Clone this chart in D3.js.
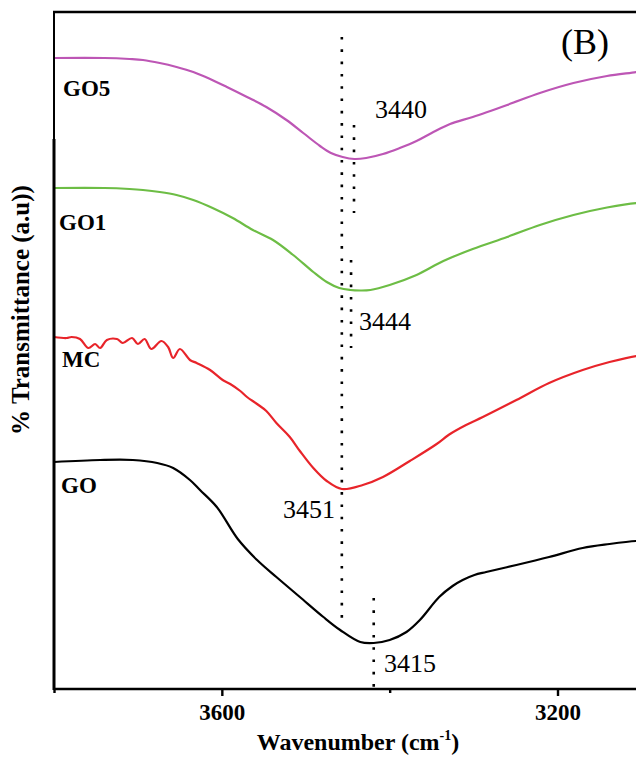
<!DOCTYPE html>
<html>
<head>
<meta charset="utf-8">
<script src="https://cdnjs.cloudflare.com/ajax/libs/d3/7.8.5/d3.min.js"></script>
<style>
  body { margin: 0; background: #fff; }
  text { font-family: "Liberation Serif", "Times New Roman", serif; }
</style>
</head>
<body>
<script>
// FTIR spectra, O-H stretching region (wavenumber, transmittance a.u.)
var go5 = [[3800,631],[3740,631],[3710,630],[3694,629],[3674,626],[3654,622],[3634,617],[3614,610],
  [3594,602],[3570,592],[3547,582],[3523,569],[3503,556],[3483,543],[3470,536],[3456,532],[3442,530],
  [3428,531],[3408,535],[3388,541],[3368,548],[3350,556],[3328,565],[3301,572],[3260,584],[3221,596],
  [3181,606],[3141,613],[3106,617],[3100,618]];

var go1 = [[3800,501],[3740,501],[3710,500],[3694,499],[3674,497],[3654,494],[3634,489],[3611,481],
  [3587,471],[3563,459],[3539,449],[3515,434],[3491,417],[3475,407],[3460,401],[3447,399],[3435,398.5],
  [3423,399],[3400,404],[3368,414],[3336,428],[3301,440],[3260,452],[3221,464],[3181,474],[3141,481.5],
  [3106,486],[3100,486]];

var mc = [[3800,352],[3785,351],[3779,352],[3769,350],[3759,341],[3751,345],[3745,341],[3737,349],
  [3725,350],[3718,346],[3707,351],[3700,345],[3692,350],[3684,340],[3672,348],[3664,342],[3658,331],
  [3650,340],[3638,329],[3630,326],[3614,319],[3599,309],[3590,305],[3578,298],[3570,292],[3558,285],
  [3547,278],[3535,266],[3519,252],[3507,238],[3491,221],[3475,208],[3457,200],[3432,204],[3408,212],
  [3376,228],[3344,245],[3329,254.5],[3309,264],[3289,272],[3249,289],[3210,306],[3170,319],[3138,327],
  [3106,333],[3100,333]];

var go = [[3800,227],[3745,229],[3706,229],[3677,226],[3658,221],[3638,209],[3626,199],[3606,182],
  [3581,150],[3558,129],[3535,112],[3507,92],[3479,72],[3459,59],[3435,47],[3419,46],[3400,49],
  [3380,57],[3364,69],[3341,92],[3325,103],[3313,109],[3299,114],[3285,117],[3249,124],[3210,132],
  [3170,141],[3138,145],[3106,148],[3100,148]];

var seriesNames = ["GO5", "GO1", "MC", "GO"];
var seriesColors = ["#bd56b5", "#6dbd45", "#e8242a", "#000000"];

// dotted guide lines: wavenumber, from, to (a.u.)
var guideWave = [3457, 3442.5, 3446, 3419];
var guideFrom = [652, 564, 429, 91];
var guideTo = [67, 476, 341, 0];
var peakLabels = ["3451", "3440", "3444", "3415"];

var majorTicks = [3600, 3200];
var minorTicks = [3800, 3400];

var width = 636, height = 757;

var x = d3.scaleLinear().domain([3800, 3200]).range([54, 557.5]);
var y = d3.scaleLinear().domain([0, 680]).range([689, 9]);

var svg = d3.select("body").append("svg")
  .attr("width", width)
  .attr("height", height);

svg.append("rect").attr("width", width).attr("height", height).attr("fill", "#fff");

svg.append("clipPath").attr("id", "plot")
  .append("rect").attr("x", 54).attr("y", 12).attr("width", width - 54).attr("height", 677);

var line = d3.line()
  .x(function (d) { return x(d[0]); })
  .y(function (d) { return y(d[1]); })
  .curve(d3.curveCatmullRom.alpha(0.5));

var plot = svg.append("g").attr("clip-path", "url(#plot)");

[go5, go1, mc, go].forEach(function (s, i) {
  plot.append("path")
    .datum(s)
    .attr("d", line)
    .attr("fill", "none")
    .attr("stroke", seriesColors[i])
    .attr("stroke-width", 2.2)
    .attr("stroke-linejoin", "round");
});

// dotted guides
guideWave.forEach(function (w, i) {
  svg.append("line")
    .attr("x1", x(w)).attr("x2", x(w))
    .attr("y1", y(guideFrom[i])).attr("y2", y(guideTo[i]))
    .attr("stroke", "#000")
    .attr("stroke-width", 2.6)
    .attr("stroke-dasharray", "2.6,9.7");
});

// frame: top line and left axis
svg.append("line").attr("x1", 53).attr("x2", width).attr("y1", 12).attr("y2", 12)
  .attr("stroke", "#000").attr("stroke-width", 2.4);
svg.append("line").attr("x1", 54).attr("x2", 54).attr("y1", 11).attr("y2", 139)
  .attr("stroke", "#000").attr("stroke-width", 2);
svg.append("line").attr("x1", 54).attr("x2", 54).attr("y1", 139).attr("y2", 690)
  .attr("stroke", "#000").attr("stroke-width", 3);

// x axis
var xAxis = svg.append("g")
  .attr("transform", "translate(0,689)")
  .call(d3.axisBottom(x).tickValues(majorTicks).tickSize(7).tickFormat(d3.format("d")));
xAxis.select(".domain").attr("d", "M54,0H" + width).attr("stroke-width", 2.6);
xAxis.selectAll(".tick line").attr("stroke-width", 2.4);
xAxis.selectAll("text")
  .attr("y", 31).attr("dy", null)
  .style("font-family", "'Liberation Serif', serif")
  .style("font-size", "23px")
  .style("font-weight", "bold")
  .attr("fill", "#000");

var xMinor = svg.append("g")
  .attr("transform", "translate(0,689)")
  .call(d3.axisBottom(x).tickValues(minorTicks).tickSize(4).tickFormat(""));
xMinor.select(".domain").remove();
xMinor.selectAll(".tick line").attr("stroke-width", 2.4);

// axis titles
var xt = svg.append("text")
  .attr("x", 358).attr("y", 750)
  .attr("text-anchor", "middle")
  .style("font-size", "24px").style("font-weight", "bold")
  .text("Wavenumber (cm");
xt.append("tspan").attr("dy", -10).style("font-size", "14px").text("-1");
xt.append("tspan").attr("dy", 10).text(")");

svg.append("text")
  .attr("transform", "translate(29,310) rotate(-90)")
  .attr("text-anchor", "middle")
  .style("font-size", "25px").style("font-weight", "bold")
  .text("% Transmittance (a.u))");

// series labels
var nameX = [63, 59, 62, 61], nameY = [96, 230, 367, 493];
seriesNames.forEach(function (n, i) {
  svg.append("text")
    .attr("x", nameX[i]).attr("y", nameY[i])
    .style("font-size", "23px").style("font-weight", "bold")
    .text(n);
});

// peak labels
var peakX = [283, 375, 359, 384], peakY = [518, 118, 330, 672];
peakLabels.forEach(function (p, i) {
  svg.append("text")
    .attr("x", peakX[i]).attr("y", peakY[i])
    .style("font-size", "26px")
    .text(p);
});

svg.append("text")
  .attr("x", 561).attr("y", 54)
  .style("font-size", "36px")
  .text("(B)");
</script>
</body>
</html>
